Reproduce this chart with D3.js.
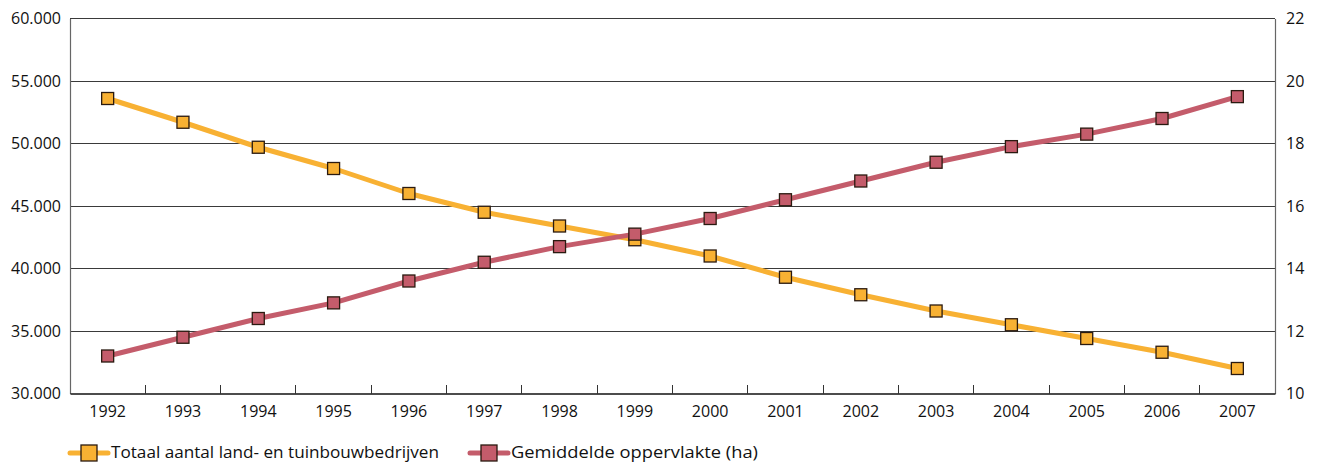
<!DOCTYPE html>
<html><head><meta charset="utf-8">
<script src="https://cdn.jsdelivr.net/npm/d3@7"></script>
<style>html,body{margin:0;padding:0;background:#fff;}svg{display:block;font-family:"Open Sans",sans-serif;}</style>
</head><body>
<svg id="chart" width="1317" height="463"></svg>
<script>
const years = ["1992","1993","1994","1995","1996","1997","1998","1999","2000","2001","2002","2003","2004","2005","2006","2007"];
const bedrijven = [53600,51700,49700,48000,46000,44500,43400,42300,41000,39300,37900,36600,35500,34400,33300,32000];
const oppervlakte = [11.2,11.8,12.4,12.9,13.6,14.2,14.7,15.1,15.6,16.2,16.8,17.4,17.9,18.3,18.8,19.5];
const leftTicks = [30000,35000,40000,45000,50000,55000,60000];
const rightTicks = [10,12,14,16,18,20,22];
const seriesNames = ["Totaal aantal land- en tuinbouwbedrijven","Gemiddelde oppervlakte (ha)"];
const colors = ["#F8B133","#C45C6B"];

const svg = d3.select("#chart");
const L = 70, R = 1275, T = 18.5, B = 393.5;
const x = d3.scaleBand().domain(years).range([L, R]);
const yL = d3.scaleLinear().domain([30000,60000]).range([B, T]);
const yR = d3.scaleLinear().domain([10,22]).range([B, T]);
const fmtL = d => d3.format(",.0f")(d).replace(/,/g, ".");
const fs = 16;

// gridlines
svg.append("g").selectAll("line").data(leftTicks.slice(1)).join("line")
  .attr("x1", L).attr("x2", R).attr("y1", d => yL(d)).attr("y2", d => yL(d))
  .attr("stroke", "#3a3a3a").attr("stroke-width", 1).attr("shape-rendering","crispEdges");

// left axis
const gL = svg.append("g").attr("transform", `translate(${L},0)`)
  .call(d3.axisLeft(yL).tickValues(leftTicks).tickFormat(fmtL).tickSize(0).tickPadding(9));
gL.select(".domain").attr("stroke", "#666").attr("stroke-width", 1.2);
gL.selectAll("text").attr("font-size", fs).attr("fill", "#111").attr("font-family", "Open Sans");

// right axis
const gR = svg.append("g").attr("transform", `translate(${R},0)`)
  .call(d3.axisRight(yR).tickValues(rightTicks).tickSize(0).tickPadding(11));
gR.select(".domain").attr("stroke", "#666").attr("stroke-width", 1.2);
gR.selectAll("text").attr("font-size", fs).attr("fill", "#111").attr("font-family", "Open Sans");

// bottom axis
const gB = svg.append("g").attr("transform", `translate(0,${B})`)
  .call(d3.axisBottom(x).tickSize(0).tickPadding(12));
gB.select(".domain").attr("stroke", "#111").attr("stroke-width", 1.3);
gB.selectAll("text").attr("font-size", fs).attr("fill", "#111").attr("font-family", "Open Sans");
// inner tick marks at band boundaries
svg.append("g").selectAll("line").data(years.slice(1)).join("line")
  .attr("x1", d => x(d)).attr("x2", d => x(d)).attr("y1", B).attr("y2", B - 9)
  .attr("stroke", "#333").attr("stroke-width", 1).attr("shape-rendering","crispEdges");

const cx = d => x(d) + x.bandwidth() / 2;
const ms = 12;

function drawSeries(vals, yScale, color) {
  const line = d3.line().x((d, i) => cx(years[i])).y(d => yScale(d));
  svg.append("path").datum(vals).attr("d", line).attr("fill", "none")
    .attr("stroke", color).attr("stroke-width", 5).attr("stroke-linejoin", "round");
  svg.append("g").selectAll("rect").data(vals).join("rect")
    .attr("x", (d, i) => cx(years[i]) - ms / 2).attr("y", d => yScale(d) - ms / 2)
    .attr("width", ms).attr("height", ms)
    .attr("fill", color).attr("stroke", "#2a1a10").attr("stroke-width", 1.3);
}
drawSeries(bedrijven, yL, colors[0]);
drawSeries(oppervlakte, yR, colors[1]);

// legend
const legendX = [70, 470];
const legendY = 453;
const legendW = [328, 247];
seriesNames.forEach((name, i) => {
  const g = svg.append("g");
  const lx = legendX[i];
  g.append("line").attr("x1", lx).attr("x2", lx + 38).attr("y1", legendY).attr("y2", legendY)
    .attr("stroke", colors[i]).attr("stroke-width", 5).attr("stroke-linecap", "round");
  g.append("rect").attr("x", lx + 19 - 8).attr("y", legendY - 8).attr("width", 16).attr("height", 16)
    .attr("fill", colors[i]).attr("stroke", "#2a1a10").attr("stroke-width", 1.3);
  g.append("text").attr("x", lx + 41).attr("y", legendY + 5).text(name)
    .attr("font-size", 17).attr("fill", "#111")
    .attr("textLength", legendW[i]).attr("lengthAdjust", "spacingAndGlyphs");
});
</script>
</body></html>
